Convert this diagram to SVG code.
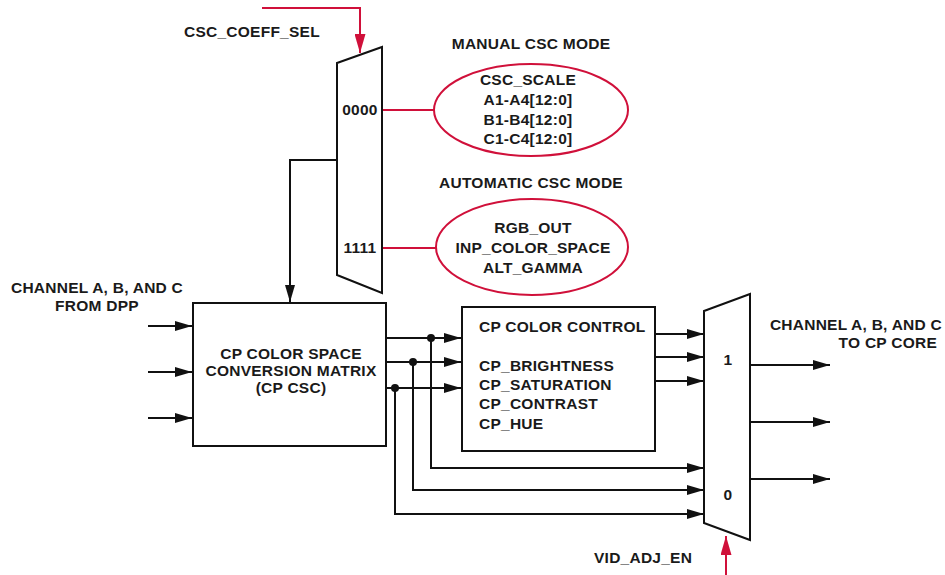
<svg xmlns="http://www.w3.org/2000/svg" width="945" height="575" viewBox="0 0 945 575">
<style>
text{font-family:"Liberation Sans",Arial,sans-serif;font-weight:bold;font-size:15.5px;letter-spacing:0.25px;fill:#1a1a1a}
.m{text-anchor:middle}
.k{fill:none;stroke:#111;stroke-width:2}
.r{fill:none;stroke:#d0103a;stroke-width:2}
.box{fill:#fff;stroke:#111;stroke-width:2}
.ell{fill:#fff;stroke:#d0103a;stroke-width:2}
</style>
<defs>
<marker id="ab" markerUnits="userSpaceOnUse" markerWidth="18" markerHeight="10" refX="17" refY="5" orient="auto"><path d="M0,0 L17,5 L0,10 z" fill="#111"/></marker>
<marker id="ar" markerUnits="userSpaceOnUse" markerWidth="20" markerHeight="11" refX="19" refY="5.5" orient="auto"><path d="M0,0 L19,5.5 L0,11 z" fill="#d0103a"/></marker>
<marker id="dot" markerUnits="userSpaceOnUse" markerWidth="10" markerHeight="10" refX="5" refY="5"><circle cx="5" cy="5" r="4" fill="#111"/></marker>
</defs>

<text x="184" y="37">CSC_COEFF_SEL</text>
<text class="m" x="531" y="49">MANUAL CSC MODE</text>
<text class="m" x="531" y="188">AUTOMATIC CSC MODE</text>
<text class="m" x="97" y="293">CHANNEL A, B, AND C</text>
<text class="m" x="97" y="311">FROM DPP</text>
<text x="942" y="330" text-anchor="end">CHANNEL A, B, AND C</text>
<text x="937" y="348" text-anchor="end">TO CP CORE</text>
<text x="594" y="563">VID_ADJ_EN</text>

<g id="connectors">
<path class="r" d="M262,8 H360 V53" marker-end="url(#ar)"/>
<path class="r" d="M383,110 H434"/>
<path class="r" d="M383,248 H436"/>
<path class="k" d="M337,160 H290 V302" marker-end="url(#ab)"/>
<path class="k" d="M148,326 H192" marker-end="url(#ab)"/>
<path class="k" d="M148,372 H192" marker-end="url(#ab)"/>
<path class="k" d="M148,418 H192" marker-end="url(#ab)"/>
<path class="k" d="M386,338 H461" marker-end="url(#ab)"/>
<path class="k" d="M386,362 H461" marker-end="url(#ab)"/>
<path class="k" d="M386,388 H461" marker-end="url(#ab)"/>
<path class="k" d="M655,334 H704" marker-end="url(#ab)"/>
<path class="k" d="M655,357 H704" marker-end="url(#ab)"/>
<path class="k" d="M655,381 H704" marker-end="url(#ab)"/>
<path class="k" d="M431,338 V468 H704" marker-start="url(#dot)" marker-end="url(#ab)"/>
<path class="k" d="M413,362 V490 H704" marker-start="url(#dot)" marker-end="url(#ab)"/>
<path class="k" d="M395,388 V514 H704" marker-start="url(#dot)" marker-end="url(#ab)"/>
<path class="k" d="M750,365 H830" marker-end="url(#ab)"/>
<path class="k" d="M750,422 H830" marker-end="url(#ab)"/>
<path class="k" d="M750,479 H830" marker-end="url(#ab)"/>
<path class="r" d="M726,575 V536" marker-end="url(#ar)"/>
</g>

<g id="mux1">
<path class="box" d="M337,63 L382,47 L382,293 L337,275 Z"/>
<text class="m" x="360" y="115">0000</text>
<text class="m" x="360" y="253">1111</text>
</g>

<g id="manual">
<ellipse class="ell" cx="531" cy="110" rx="97" ry="46"/>
<text class="m" x="528" y="85">CSC_SCALE</text>
<text class="m" x="528" y="105">A1-A4[12:0]</text>
<text class="m" x="528" y="125">B1-B4[12:0]</text>
<text class="m" x="528" y="144">C1-C4[12:0]</text>
</g>

<g id="auto">
<ellipse class="ell" cx="532" cy="247" rx="96" ry="48"/>
<text class="m" x="533" y="233">RGB_OUT</text>
<text class="m" x="533" y="253">INP_COLOR_SPACE</text>
<text class="m" x="533" y="273">ALT_GAMMA</text>
</g>

<g id="csc">
<rect class="box" x="193" y="303" width="193" height="143"/>
<text class="m" x="291" y="359">CP COLOR SPACE</text>
<text class="m" x="291" y="376">CONVERSION MATRIX</text>
<text class="m" x="291" y="393">(CP CSC)</text>
</g>

<g id="colorctl">
<rect class="box" x="462" y="307" width="193" height="144"/>
<text x="479" y="332">CP COLOR CONTROL</text>
<text x="479" y="371">CP_BRIGHTNESS</text>
<text x="479" y="390">CP_SATURATION</text>
<text x="479" y="409">CP_CONTRAST</text>
<text x="479" y="429">CP_HUE</text>
</g>

<g id="mux2">
<path class="box" d="M704,311 L750,294 L750,540 L704,523 Z"/>
<text class="m" x="728" y="365">1</text>
<text class="m" x="728" y="500">0</text>
</g>
</svg>
